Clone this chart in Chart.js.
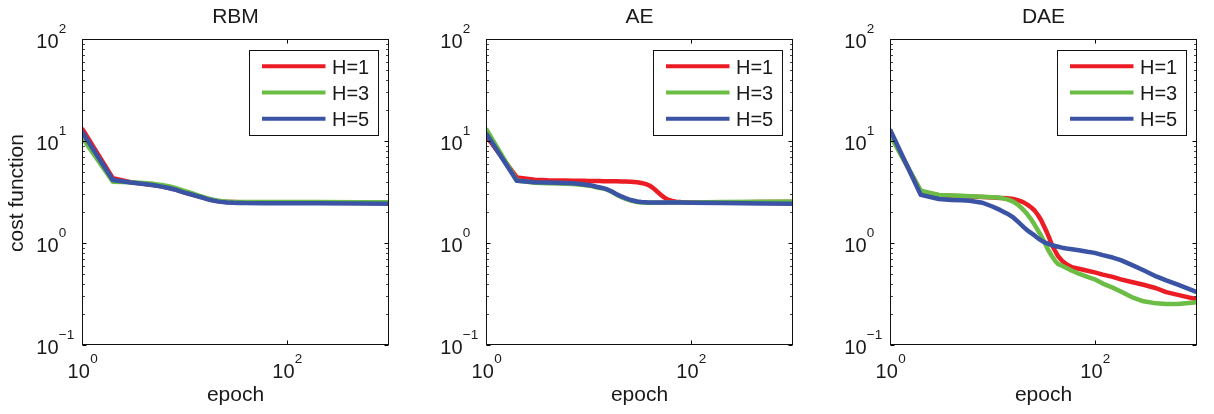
<!DOCTYPE html>
<html><head><meta charset="utf-8">
<script src="https://cdn.jsdelivr.net/npm/chart.js@4.4.1/dist/chart.umd.min.js"></script>
<style>
html,body{margin:0;padding:0;background:#fff;}
#wrap{position:relative;width:1214px;height:414px;overflow:hidden;background:#fff;}
canvas{position:absolute;top:0;}
</style></head><body>
<div id="wrap">
<canvas id="c0" width="404" height="414" style="left:0px"></canvas>
<canvas id="c1" width="404" height="414" style="left:404px"></canvas>
<canvas id="c2" width="404" height="414" style="left:808px"></canvas>
</div>
<script>
// ---- chart text ----
const panelTitles = ['RBM', 'AE', 'DAE'];
const seriesLabels = ['H=1', 'H=3', 'H=5'];
const xAxisTitle = 'epoch';
const yAxisTitle = 'cost function';
const xTickValues = [1, 100];
const xTickExponents = ['0', '2'];
const yTickValues = [0.1, 1, 10, 100];
const yTickExponents = ['\u22121', '0', '1', '2'];

// ---- RBM ----
const rbmEpochs = [1, 2, 3, 4, 5, 6, 7, 8, 9, 10, 11, 12, 13, 14, 15, 17, 19, 21, 23, 26, 30, 35, 40, 60, 100, 200, 500, 1000];
const rbmH1 = [13.3, 4.32, 3.94, 3.8, 3.7, 3.59, 3.48, 3.37, 3.25, 3.14, 3.06, 2.99, 2.92, 2.86, 2.8, 2.7, 2.63, 2.58, 2.55, 2.53, 2.52, 2.51, 2.51, 2.51, 2.51, 2.51, 2.51, 2.51];
const rbmH3 = [10.9, 3.98, 3.95, 3.88, 3.8, 3.7, 3.6, 3.48, 3.36, 3.25, 3.15, 3.06, 2.98, 2.9, 2.84, 2.74, 2.66, 2.61, 2.57, 2.55, 2.53, 2.52, 2.52, 2.52, 2.52, 2.52, 2.51, 2.51];
const rbmH5 = [12.3, 4.15, 3.92, 3.79, 3.68, 3.57, 3.46, 3.35, 3.23, 3.12, 3.04, 2.97, 2.9, 2.84, 2.78, 2.68, 2.61, 2.56, 2.53, 2.5, 2.48, 2.47, 2.46, 2.45, 2.45, 2.45, 2.44, 2.43];

// ---- AE ----
const aeEpochs = [1, 2, 3, 4, 5, 6, 7, 8, 9, 10, 11, 12, 13, 14, 15, 17, 19, 21, 23, 26, 30, 33, 36, 39, 42, 45, 48, 51, 55, 60, 66, 72, 80, 100, 200, 500, 1000];
const aeH1 = [11.3, 4.4, 4.18, 4.12, 4.1, 4.09, 4.08, 4.07, 4.07, 4.06, 4.06, 4.05, 4.05, 4.04, 4.04, 4.03, 4.02, 4.01, 4.0, 3.98, 3.94, 3.88, 3.8, 3.68, 3.52, 3.33, 3.14, 2.97, 2.8, 2.66, 2.58, 2.54, 2.52, 2.5, 2.5, 2.52, 2.53];
const aeH3 = [13.2, 4.1, 3.9, 3.86, 3.83, 3.8, 3.78, 3.74, 3.7, 3.65, 3.59, 3.52, 3.46, 3.41, 3.35, 3.17, 2.96, 2.82, 2.72, 2.6, 2.52, 2.49, 2.48, 2.48, 2.48, 2.48, 2.48, 2.48, 2.48, 2.49, 2.49, 2.49, 2.49, 2.5, 2.52, 2.54, 2.55];
const aeH5 = [11.9, 4.07, 3.95, 3.92, 3.9, 3.87, 3.85, 3.8, 3.75, 3.7, 3.64, 3.56, 3.5, 3.45, 3.38, 3.2, 3.0, 2.86, 2.76, 2.64, 2.55, 2.52, 2.51, 2.5, 2.5, 2.5, 2.5, 2.5, 2.5, 2.49, 2.49, 2.49, 2.49, 2.48, 2.46, 2.44, 2.42];

// ---- DAE ----
const daeEpochs = [1, 2, 3, 4, 5, 6, 8, 10, 12, 14, 16, 18, 20, 22, 24, 26, 28, 30, 32, 34, 36, 38, 41, 44, 48, 53, 60, 70, 85, 100, 120, 150, 180, 230, 300, 400, 500, 650, 1000];
const daeH1 = [11.8, 3.18, 2.94, 2.91, 2.88, 2.86, 2.82, 2.79, 2.76, 2.74, 2.7, 2.62, 2.52, 2.38, 2.23, 2.07, 1.87, 1.67, 1.46, 1.28, 1.12, 0.97, 0.84, 0.74, 0.67, 0.62, 0.58, 0.56, 0.535, 0.515, 0.49, 0.465, 0.44, 0.415, 0.39, 0.36, 0.33, 0.31, 0.28];
const daeH3 = [11.4, 3.26, 2.96, 2.93, 2.9, 2.88, 2.84, 2.81, 2.77, 2.68, 2.54, 2.35, 2.13, 1.91, 1.7, 1.5, 1.32, 1.18, 1.04, 0.91, 0.82, 0.75, 0.67, 0.62, 0.6, 0.57, 0.535, 0.5, 0.465, 0.44, 0.4, 0.365, 0.335, 0.295, 0.268, 0.256, 0.252, 0.252, 0.262];
const daeH5 = [13.0, 2.96, 2.7, 2.64, 2.62, 2.6, 2.48, 2.28, 2.1, 1.94, 1.78, 1.6, 1.45, 1.33, 1.25, 1.18, 1.11, 1.06, 1.02, 0.995, 0.975, 0.955, 0.935, 0.92, 0.9, 0.885, 0.87, 0.85, 0.82, 0.8, 0.76, 0.72, 0.68, 0.61, 0.54, 0.47, 0.43, 0.39, 0.33];

const seriesColors = ['#EC1C24', '#6CBD45', '#3A53A4'];
const FONT = '"Liberation Sans", Arial, Helvetica, sans-serif';
const TEXT = '#1a1a1a';

const panels = [
  { title: panelTitles[0], epochs: rbmEpochs, series: [rbmH1, rbmH3, rbmH5], showYTitle: true },
  { title: panelTitles[1], epochs: aeEpochs, series: [aeH1, aeH3, aeH5], showYTitle: false },
  { title: panelTitles[2], epochs: daeEpochs, series: [daeH1, daeH3, daeH5], showYTitle: false }
];

const matlabAxes = {
  id: 'matlabAxes',
  afterDatasetsDraw(chart, args, opts) {
    const ctx = chart.ctx, a = chart.chartArea;
    const xs = chart.scales.x, ys = chart.scales.y;
    ctx.save();
    const L = Math.round(a.left) + 0.5, R = Math.round(a.right) - 0.5;
    const T = Math.round(a.top) + 0.5, B = Math.round(a.bottom) - 0.5;
    // minor ticks on y
    ctx.strokeStyle = '#444';
    ctx.lineWidth = 1;
    ctx.beginPath();
    for (let d = -1; d <= 1; d++) {
      for (let m = 2; m <= 9; m++) {
        const py = Math.round(ys.getPixelForValue(m * Math.pow(10, d))) + 0.5;
        ctx.moveTo(L, py); ctx.lineTo(L + 2.5, py);
        ctx.moveTo(R, py); ctx.lineTo(R - 2.5, py);
      }
    }
    ctx.stroke();
    // major ticks
    ctx.strokeStyle = '#000';
    ctx.beginPath();
    yTickValues.forEach(v => {
      const py = Math.round(ys.getPixelForValue(v)) + 0.5;
      ctx.moveTo(L, py); ctx.lineTo(L + 4, py);
      ctx.moveTo(R, py); ctx.lineTo(R - 4, py);
    });
    xTickValues.forEach(v => {
      const px = Math.round(xs.getPixelForValue(v)) + 0.5;
      ctx.moveTo(px, B); ctx.lineTo(px, B - 4);
      ctx.moveTo(px, T); ctx.lineTo(px, T + 4);
    });
    ctx.stroke();
    // box
    ctx.strokeStyle = '#111';
    ctx.strokeRect(L, T, R - L, B - T);

    const EXP = '13.5px ' + FONT, BASE = '20px ' + FONT;
    // y tick labels
    ctx.fillStyle = TEXT;
    ctx.textBaseline = 'alphabetic';
    yTickValues.forEach((v, i) => {
      const py = ys.getPixelForValue(v);
      ctx.font = BASE;
      ctx.textAlign = 'right';
      ctx.fillText('10', a.left - 23.5, py + 8.5);
      ctx.font = EXP;
      ctx.textAlign = 'left';
      ctx.fillText(yTickExponents[i], a.left - 23.2, py - 5.6);
    });
    // x tick labels
    xTickValues.forEach((v, i) => {
      const px = xs.getPixelForValue(v);
      ctx.font = BASE;
      const w1 = ctx.measureText('10').width;
      ctx.font = EXP;
      const w2 = ctx.measureText(xTickExponents[i]).width;
      const start = px - (w1 + w2) / 2 + 0.5;
      ctx.textAlign = 'left';
      ctx.font = BASE;
      ctx.fillText('10', start, a.bottom + 33.3);
      ctx.font = EXP;
      ctx.fillText(xTickExponents[i], start + w1 + 0.3, a.bottom + 18.3);
    });
    // title and axis titles
    const cx = (a.left + a.right) / 2;
    ctx.font = '21px ' + FONT;
    ctx.textAlign = 'center';
    ctx.fillText(opts.title, cx, 22.5);
    ctx.fillText(xAxisTitle, cx, 401);
    if (opts.showYTitle) {
      ctx.save();
      ctx.translate(22.5, (a.top + a.bottom) / 2 + 1);
      ctx.rotate(-Math.PI / 2);
      ctx.fillText(yAxisTitle, 0, 0);
      ctx.restore();
    }

    // legend
    const bw = 129, bh = 85;
    const bx = Math.round(a.right - 11 - bw) + 0.5, by = Math.round(a.top + 11) + 0.5;
    ctx.fillStyle = '#fff';
    ctx.fillRect(bx, by, bw, bh);
    ctx.strokeStyle = '#111';
    ctx.lineWidth = 1;
    ctx.strokeRect(bx, by, bw, bh);
    ctx.font = BASE;
    ctx.textAlign = 'left';
    seriesLabels.forEach((lab, i) => {
      const ly = by + 15.8 + i * 26.2;
      ctx.strokeStyle = seriesColors[i];
      ctx.lineWidth = 4;
      ctx.beginPath();
      ctx.moveTo(bx + 12.5, ly); ctx.lineTo(bx + 76, ly);
      ctx.stroke();
      ctx.fillStyle = TEXT;
      ctx.fillText(lab, bx + 82.5, ly + 7.2);
    });
    ctx.restore();
  }
};

panels.forEach((p, idx) => {
  const datasets = p.series.map((vals, si) => ({
    label: seriesLabels[si],
    data: p.epochs.map((e, k) => ({ x: e, y: vals[k] })),
    borderColor: seriesColors[si],
    backgroundColor: seriesColors[si],
    borderWidth: 4.5,
    pointRadius: 0,
    pointHoverRadius: 0,
    tension: 0,
    fill: false,
    clip: 0,
    borderJoinStyle: 'round',
    order: 2 - si
  }));
  new Chart(document.getElementById('c' + idx), {
    type: 'line',
    data: { datasets },
    options: {
      responsive: false,
      animation: false,
      events: [],
      layout: { padding: { left: 82, right: 15, top: 39, bottom: 69 } },
      scales: {
        x: { type: 'logarithmic', min: 1, max: 1000, display: false },
        y: { type: 'logarithmic', min: 0.1, max: 100, display: false }
      },
      plugins: {
        legend: { display: false },
        title: { display: false },
        tooltip: { enabled: false },
        matlabAxes: { title: p.title, showYTitle: p.showYTitle }
      }
    },
    plugins: [matlabAxes]
  });
});
</script>
</body></html>
